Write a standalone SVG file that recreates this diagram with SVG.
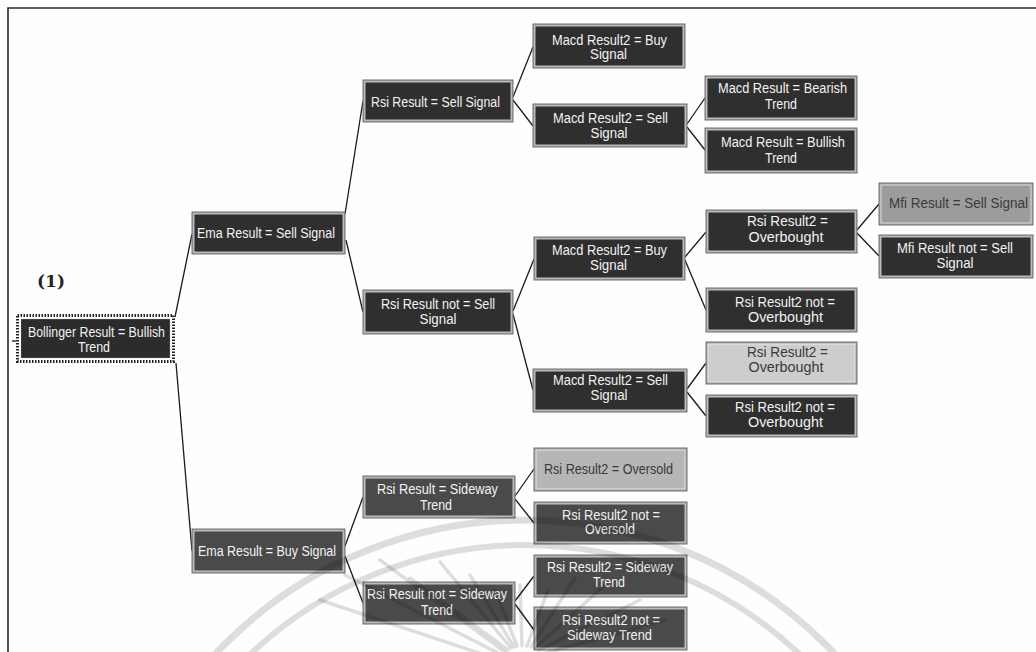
<svg xmlns="http://www.w3.org/2000/svg" width="1036" height="652" viewBox="0 0 1036 652">
<defs>
<style>
.frame{fill:#a4a4a4;stroke:#707070;stroke-width:1}
.dark{fill:#2f2f2f;stroke:#dcdcdc;stroke-width:0.8}
.mid{fill:#4a4a4a;stroke:#dcdcdc;stroke-width:0.8}
.light{fill:#cdcdcd;stroke:#f0f0f0;stroke-width:0.8}
.grey{fill:#b6b6b6;stroke:#eeeeee;stroke-width:0.8}
.mfi{fill:#9c9c9c;stroke:#e6e6e6;stroke-width:0.8}
text{font-family:"Liberation Sans",Arial,sans-serif;font-size:14px;text-anchor:middle;fill:#f2f2f2}
text.dk{fill:#3a3a3a}
.conn line{stroke:#1a1a1a;stroke-width:1.3}
.wm{fill:none;stroke:#000;stroke-opacity:0.13}
</style>
</defs>
<rect width="1036" height="652" fill="#fefefe"/>
<path d="M8 660 V8 H1040" fill="none" stroke="#2a2a2a" stroke-width="1.6"/>
<text x="51" y="287" textLength="28" lengthAdjust="spacingAndGlyphs" style="font-family:'DejaVu Serif','Liberation Serif',serif;font-size:16px;font-weight:bold;fill:#222">(1)</text>

<g id="connectors" class="conn">
<line x1="12" y1="341" x2="16" y2="341"/>
<line x1="175" y1="317" x2="192" y2="234"/>
<line x1="176" y1="363" x2="192" y2="551"/>
<line x1="345" y1="214" x2="363" y2="101"/>
<line x1="346" y1="240" x2="363" y2="312"/>
<line x1="513" y1="97" x2="533" y2="47"/>
<line x1="513" y1="100" x2="533" y2="126"/>
<line x1="687" y1="124" x2="705" y2="98"/>
<line x1="687" y1="127" x2="705" y2="150"/>
<line x1="513" y1="311" x2="534" y2="259"/>
<line x1="513" y1="314" x2="533" y2="390"/>
<line x1="685" y1="257" x2="706" y2="232"/>
<line x1="685" y1="260" x2="706" y2="310"/>
<line x1="857" y1="230" x2="879" y2="204"/>
<line x1="857" y1="233" x2="879" y2="256"/>
<line x1="687" y1="389" x2="706" y2="363"/>
<line x1="687" y1="392" x2="706" y2="416"/>
<line x1="345" y1="546" x2="363" y2="497"/>
<line x1="345" y1="556" x2="363" y2="603"/>
<line x1="515" y1="496" x2="534" y2="469"/>
<line x1="515" y1="499" x2="534" y2="523"/>
<line x1="515" y1="601" x2="534" y2="576"/>
<line x1="515" y1="604" x2="534" y2="630"/>
</g>

<g id="n-bollinger">
<rect x="16" y="314" width="159" height="49" fill="#fff" stroke="none"/>
<rect x="17.5" y="315.5" width="156" height="46" fill="none" stroke="#222" stroke-width="3" stroke-dasharray="1.5 1.5"/>
<rect x="20.5" y="318.5" width="150" height="40" fill="#2c2c2c" stroke="#f4f4f4" stroke-width="1.2"/>
<text x="96.5" y="337" textLength="137" lengthAdjust="spacingAndGlyphs">Bollinger Result = Bullish</text>
<text x="94" y="352" textLength="32" lengthAdjust="spacingAndGlyphs">Trend</text>
</g>

<g id="n-ema-sell">
<rect class="frame" x="192" y="212" width="153" height="42"/>
<rect class="dark" x="194" y="214" width="149" height="38"/>
<text x="266" y="238" textLength="138" lengthAdjust="spacingAndGlyphs">Ema Result = Sell Signal</text>
</g>

<g id="n-ema-buy">
<rect class="frame" x="192" y="529" width="153" height="44"/>
<rect class="mid" x="194" y="531" width="149" height="40"/>
<text x="267" y="556" textLength="138" lengthAdjust="spacingAndGlyphs">Ema Result = Buy Signal</text>
</g>

<g id="n-rsi-sell">
<rect class="frame" x="363" y="80" width="150" height="42"/>
<rect class="dark" x="365" y="82" width="146" height="38"/>
<text x="435.5" y="107" textLength="129" lengthAdjust="spacingAndGlyphs">Rsi Result = Sell Signal</text>
</g>

<g id="n-rsi-not-sell">
<rect class="frame" x="363" y="290" width="150" height="44"/>
<rect class="dark" x="365" y="292" width="146" height="40"/>
<text x="438" y="309" textLength="114" lengthAdjust="spacingAndGlyphs">Rsi Result not = Sell</text>
<text x="438" y="324" textLength="37" lengthAdjust="spacingAndGlyphs">Signal</text>
</g>

<g id="n-macd2-buy-a">
<rect class="frame" x="533" y="24" width="152" height="44"/>
<rect class="dark" x="535" y="26" width="148" height="40"/>
<text x="609.5" y="45" textLength="115" lengthAdjust="spacingAndGlyphs">Macd Result2 = Buy</text>
<text x="608.5" y="59" textLength="37" lengthAdjust="spacingAndGlyphs">Signal</text>
</g>

<g id="n-macd2-sell-a">
<rect class="frame" x="533" y="104" width="154" height="43"/>
<rect class="dark" x="535" y="106" width="150" height="39"/>
<text x="610.5" y="123" textLength="115" lengthAdjust="spacingAndGlyphs">Macd Result2 = Sell</text>
<text x="609" y="138" textLength="37" lengthAdjust="spacingAndGlyphs">Signal</text>
</g>

<g id="n-macd-bearish">
<rect class="frame" x="705" y="76" width="152" height="44"/>
<rect class="dark" x="707" y="78" width="148" height="40"/>
<text x="782.5" y="93" textLength="129" lengthAdjust="spacingAndGlyphs">Macd Result = Bearish</text>
<text x="781" y="109" textLength="32" lengthAdjust="spacingAndGlyphs">Trend</text>
</g>

<g id="n-macd-bullish">
<rect class="frame" x="705" y="128" width="152" height="45"/>
<rect class="dark" x="707" y="130" width="148" height="41"/>
<text x="783" y="147" textLength="124" lengthAdjust="spacingAndGlyphs">Macd Result = Bullish</text>
<text x="781" y="163" textLength="32" lengthAdjust="spacingAndGlyphs">Trend</text>
</g>

<g id="n-macd2-buy-b">
<rect class="frame" x="534" y="237" width="151" height="43"/>
<rect class="dark" x="536" y="239" width="147" height="39"/>
<text x="609.5" y="255" textLength="115" lengthAdjust="spacingAndGlyphs">Macd Result2 = Buy</text>
<text x="608.5" y="270" textLength="37" lengthAdjust="spacingAndGlyphs">Signal</text>
</g>

<g id="n-macd2-sell-b">
<rect class="frame" x="533" y="369" width="154" height="43"/>
<rect class="dark" x="535" y="371" width="150" height="39"/>
<text x="610.5" y="385" textLength="115" lengthAdjust="spacingAndGlyphs">Macd Result2 = Sell</text>
<text x="609" y="400" textLength="37" lengthAdjust="spacingAndGlyphs">Signal</text>
</g>

<g id="n-rsi2-ob-a">
<rect class="frame" x="706" y="210" width="151" height="43"/>
<rect class="dark" x="708" y="212" width="147" height="39"/>
<text x="787.5" y="226" textLength="81" lengthAdjust="spacingAndGlyphs">Rsi Result2 =</text>
<text x="786" y="242" textLength="75" lengthAdjust="spacingAndGlyphs">Overbought</text>
</g>

<g id="n-rsi2-not-ob-a">
<rect class="frame" x="706" y="288" width="151" height="44"/>
<rect class="dark" x="708" y="290" width="147" height="40"/>
<text x="785" y="307" textLength="100" lengthAdjust="spacingAndGlyphs">Rsi Result2 not =</text>
<text x="785.5" y="322" textLength="75" lengthAdjust="spacingAndGlyphs">Overbought</text>
</g>

<g id="n-rsi2-ob-b">
<rect class="frame" x="706" y="342" width="151" height="42"/>
<rect class="light" x="708" y="344" width="147" height="38"/>
<text class="dk" x="787.5" y="357" textLength="81" lengthAdjust="spacingAndGlyphs">Rsi Result2 =</text>
<text class="dk" x="786" y="372" textLength="75" lengthAdjust="spacingAndGlyphs">Overbought</text>
</g>

<g id="n-rsi2-not-ob-b">
<rect class="frame" x="706" y="395" width="151" height="42"/>
<rect class="dark" x="708" y="397" width="147" height="38"/>
<text x="785" y="412" textLength="100" lengthAdjust="spacingAndGlyphs">Rsi Result2 not =</text>
<text x="785.5" y="427" textLength="75" lengthAdjust="spacingAndGlyphs">Overbought</text>
</g>

<g id="n-mfi-sell">
<rect class="frame" x="879" y="183" width="154" height="42"/>
<rect class="mfi" x="881" y="185" width="150" height="38"/>
<text class="dk" x="958.5" y="208" textLength="139" lengthAdjust="spacingAndGlyphs">Mfi Result = Sell Signal</text>
</g>

<g id="n-mfi-not-sell">
<rect class="frame" x="879" y="235" width="154" height="43"/>
<rect class="dark" x="881" y="237" width="150" height="39"/>
<text x="955" y="253" textLength="116" lengthAdjust="spacingAndGlyphs">Mfi Result not = Sell</text>
<text x="955" y="268" textLength="37" lengthAdjust="spacingAndGlyphs">Signal</text>
</g>

<g id="n-rsi-sideway">
<rect class="frame" x="363" y="476" width="152" height="42"/>
<rect class="mid" x="365" y="478" width="148" height="38"/>
<text x="437.5" y="494" textLength="121" lengthAdjust="spacingAndGlyphs">Rsi Result = Sideway</text>
<text x="436" y="510" textLength="32" lengthAdjust="spacingAndGlyphs">Trend</text>
</g>

<g id="n-rsi-not-sideway">
<rect class="frame" x="363" y="582" width="152" height="42"/>
<rect class="mid" x="365" y="584" width="148" height="38"/>
<text x="437" y="599" textLength="140" lengthAdjust="spacingAndGlyphs">Rsi Result not = Sideway</text>
<text x="437" y="615" textLength="32" lengthAdjust="spacingAndGlyphs">Trend</text>
</g>

<g id="n-rsi2-oversold">
<rect class="frame" x="534" y="448" width="153" height="43"/>
<rect class="grey" x="536" y="450" width="149" height="39"/>
<text class="dk" x="608.5" y="474" textLength="129" lengthAdjust="spacingAndGlyphs">Rsi Result2 = Oversold</text>
</g>

<g id="n-rsi2-not-oversold">
<rect class="frame" x="534" y="502" width="153" height="42"/>
<rect class="mid" x="536" y="504" width="149" height="38"/>
<text x="611" y="520" textLength="98" lengthAdjust="spacingAndGlyphs">Rsi Result2 not =</text>
<text x="610" y="534" textLength="50" lengthAdjust="spacingAndGlyphs">Oversold</text>
</g>

<g id="n-rsi2-sideway">
<rect class="frame" x="534" y="555" width="153" height="42"/>
<rect class="mid" x="536" y="557" width="149" height="38"/>
<text x="610" y="572" textLength="126" lengthAdjust="spacingAndGlyphs">Rsi Result2 = Sideway</text>
<text x="609" y="587" textLength="32" lengthAdjust="spacingAndGlyphs">Trend</text>
</g>

<g id="n-rsi2-not-sideway">
<rect class="frame" x="534" y="607" width="153" height="43"/>
<rect class="mid" x="536" y="609" width="149" height="39"/>
<text x="611" y="625" textLength="98" lengthAdjust="spacingAndGlyphs">Rsi Result2 not =</text>
<text x="609.5" y="640" textLength="85" lengthAdjust="spacingAndGlyphs">Sideway Trend</text>
</g>

<g id="watermark" class="wm">
<circle cx="525" cy="945" r="425" stroke-width="7"/>
<circle cx="525" cy="945" r="400" stroke-width="6"/>
<g stroke-width="3.5" stroke-linecap="round">
<line x1="500" y1="660" x2="320" y2="600"/>
<line x1="502" y1="655" x2="345" y2="575"/>
<line x1="505" y1="652" x2="380" y2="560"/>
<line x1="508" y1="650" x2="410" y2="578"/>
<line x1="511" y1="648" x2="440" y2="562"/>
<line x1="514" y1="647" x2="470" y2="575"/>
<line x1="517" y1="646" x2="495" y2="590"/>
<line x1="522" y1="646" x2="520" y2="585"/>
<line x1="527" y1="646" x2="548" y2="590"/>
<line x1="531" y1="647" x2="575" y2="578"/>
<line x1="535" y1="648" x2="605" y2="585"/>
<line x1="539" y1="650" x2="640" y2="600"/>
<line x1="542" y1="654" x2="665" y2="620"/>
</g>
</g>
</svg>
